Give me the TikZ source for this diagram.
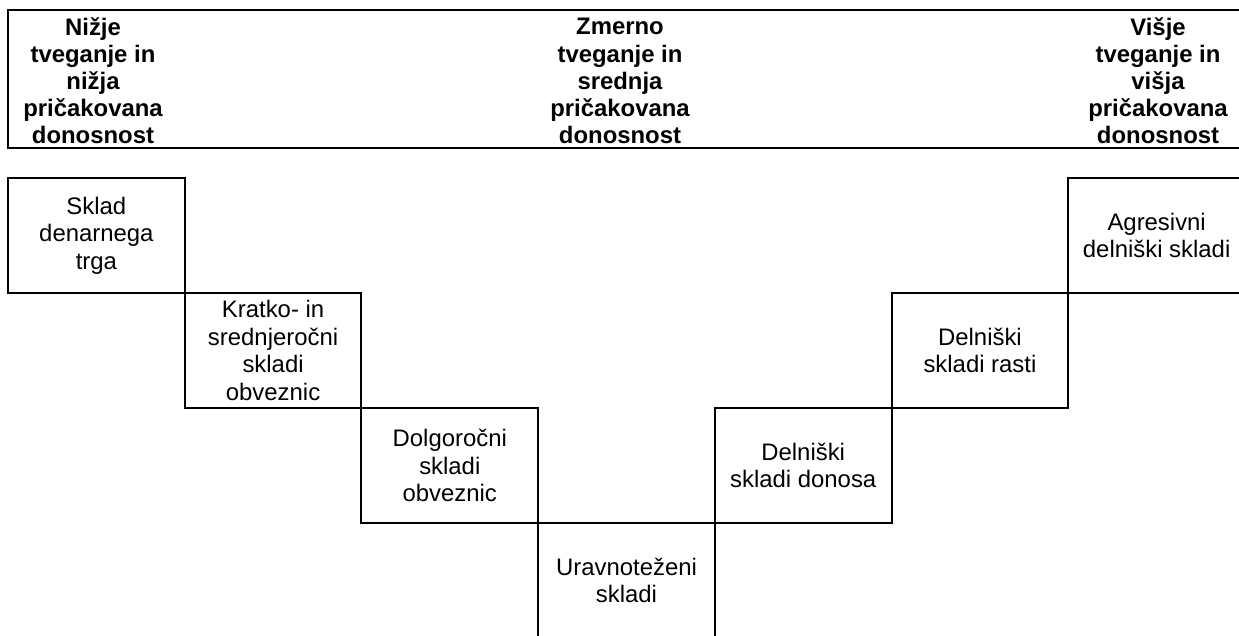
\documentclass[tikz,border=0pt]{standalone}
\usepackage{fontspec}
\setmainfont{Liberation Sans}
\usetikzlibrary{positioning}

\begin{document}
\begin{tikzpicture}[x=0.02cm, y=-0.02cm, line width=1.1pt,
  font=\fontsize{13.6}{15.6}\selectfont,
  fundbox/.style={draw, outer sep=0pt, minimum width=3.535cm, minimum height=2.3cm, align=center},
  riskhead/.style={font=\fontsize{13.6}{15.4}\selectfont\bfseries, align=center}]
\useasboundingbox (0,0) rectangle (1239,635);
\clip (0,0) rectangle (1239,635);
% risk / return scale
\node[draw, outer sep=0pt, minimum width=24.78cm, minimum height=2.76cm, anchor=north west] (hdr) at (8,10) {};
\node[riskhead] (lowrisk) at (93,81) {Nižje\\tveganje in\\nižja\\pričakovana\\donosnost};
\node[riskhead] (midrisk) at (620,81) {Zmerno\\tveganje in\\srednja\\pričakovana\\donosnost};
\node[riskhead] (highrisk) at (1158,81) {Višje\\tveganje in\\višja\\pričakovana\\donosnost};
% fund steps
\node[fundbox, anchor=north west] (money) at (8,178) {Sklad\\denarnega\\trga};
\node[fundbox, below right=0pt and 0pt of money] (shortbond) {Kratko- in\\srednjeročni\\skladi\\obveznic};
\node[fundbox, below right=0pt and 0pt of shortbond] (longbond) {Dolgoročni\\skladi\\obveznic};
\node[fundbox, below right=0pt and 0pt of longbond] (balanced) {Uravnoteženi\\skladi};
\node[fundbox, above right=0pt and 0pt of balanced] (income) {Delniški\\skladi donosa};
\node[fundbox, above right=0pt and 0pt of income] (growth) {Delniški\\skladi rasti};
\node[fundbox, above right=0pt and 0pt of growth] (aggressive) {Agresivni\\delniški skladi};
\end{tikzpicture}
\end{document}
